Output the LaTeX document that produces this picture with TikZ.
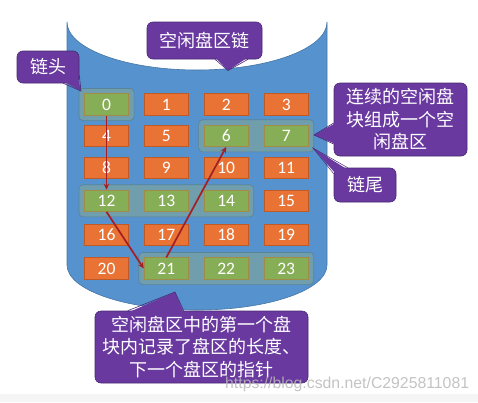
\documentclass[tikz,border=0pt]{standalone}
\usepackage{fontspec}
\usepackage{tikz}
\usetikzlibrary{calc,fit,arrows.meta}
\newfontfamily\cjkfont{Noto Sans CJK SC}
\newfontfamily\numfont{Carlito}
\newfontfamily\wmfont{Liberation Sans}
\pgfdeclarelayer{back}
\pgfdeclarelayer{bg}
\pgfsetlayers{back,bg,main}
\definecolor{cylblue}{RGB}{86,146,205}
\definecolor{cylline}{RGB}{70,118,165}
\definecolor{busyfill}{RGB}{233,115,52}
\definecolor{busyline}{RGB}{190,90,40}
\definecolor{freefill}{RGB}{134,174,86}
\definecolor{freeline}{RGB}{160,140,70}
\definecolor{grpfill}{RGB}{112,158,172}
\definecolor{grpline}{RGB}{88,132,152}
\definecolor{tipfill}{RGB}{105,57,160}
\definecolor{tipline}{RGB}{72,42,112}
\definecolor{ptrred}{RGB}{165,30,36}
\tikzset{
  cell/.style={minimum width=44.5, minimum height=21.5, inner sep=0pt,
    text=white, font=\numfont\fontsize{17.5}{17.5}\selectfont},
  busy/.style={cell, draw=busyline, fill=busyfill, line width=0.6},
  free/.style={cell, draw=freeline, fill=freefill, line width=0.6},
  grp/.style={draw=grpline, fill=grpfill, rounded corners=4, inner xsep=5, inner ysep=5, line width=0.6},
  callout/.style={draw=tipline, fill=tipfill, rounded corners=6, inner sep=0pt, line width=0.6,
    text=white, align=center, font=\cjkfont\fontsize{18}{22.5}\selectfont},
  ptr/.style={draw=ptrred, line width=1.7, -{Stealth[length=6,width=5.5]}},
}

\begin{document}
\begin{tikzpicture}[x=1pt,y=-1pt]
  \useasboundingbox (0,0) rectangle (478,402);
  % disk
  \begin{pgfonlayer}{back}
    \fill[black!4] (0,394) rectangle (478,402);
    \filldraw[fill=cylblue, draw=cylline, line width=0.6] (67,22) -- (67,265)
      .. controls (67,289.9) and (125.2,310) .. (197,310)
      .. controls (268.8,310) and (327,289.9) .. (327,265) -- (327,22)
      .. controls (327,48.5) and (268.8,70) .. (197,70)
      .. controls (125.2,70) and (67,48.5) .. (67,22) -- cycle;
  \end{pgfonlayer}
  % blocks
  \def\freemap{{1,0,0,0,0,0,1,1,0,0,0,0,1,1,1,0,0,0,0,0,0,1,1,1}}
  \foreach \r/\y in {0/104.5,1/135.8,2/167.8,3/200.8,4/235,5/268.5}
    \foreach \c/\x in {0/106.5,1/166.3,2/226.2,3/286.2} {
      \pgfmathtruncatemacro\n{4*\r+\c}
      \pgfmathtruncatemacro\f{\freemap[\n]}
      \ifnum\f=1 \def\k{free}\else\def\k{busy}\fi
      \node[\k] (c\n) at (\x,\y) {\n};
    }
  \begin{pgfonlayer}{bg}
    \node[grp, fit=(c0)] (g0) {};
    \node[grp, fit=(c6)(c7)] (g6) {};
    \node[grp, fit=(c12)(c14)] (g12) {};
    \node[grp, fit=(c21)(c23)] (g21) {};
  \end{pgfonlayer}
  % links
  \draw[ptr] (c0.south) -- (c12.north);
  \draw[ptr] (c12.south) -- (c21.west);
  \draw[ptr] (c21.north) -- (c6.south);
  % callouts
  \node[callout, minimum width=115, minimum height=37] (chain) at (204.5,40.5) {空闲盘区链};
  \node[callout, minimum width=62, minimum height=32] (head) at (48,67) {链头};
  \node[callout, minimum width=133, minimum height=73] (area) at (400.5,119.5) {连续的空闲盘\\块组成一个空\\闲盘区};
  \node[callout, minimum width=62, minimum height=34] (tail) at (365,185) {链尾};
  \node[callout, minimum width=213, minimum height=72] (note) at (201.5,347)
    {空闲盘区中的第一个盘\\块内记录了盘区的长度、\\下一个盘区的指针};
  \coordinate (chaintip) at (228,70.5);
  \coordinate (headtip) at (81,91);
  \coordinate (areatip) at (314,135);
  \coordinate (tailtip) at (313,148);
  \coordinate (notetip) at (175,292);
  \fill[tipfill] ($(chain.south)+(10.5,-2)$) -- (chaintip) -- ($(chain.south)+(43.5,-2)$) -- cycle;
  \draw[tipline, line width=0.6] ($(chain.south)+(10.5,0)$) -- (chaintip) -- ($(chain.south)+(43.5,0)$);
  \fill[tipfill] ($(head.south east)+(-16,-2)$) -- (headtip) -- ($(head.south east)+(-2,-8)$) -- cycle;
  \draw[tipline, line width=0.6] ($(head.south east)+(-16,0)$) -- (headtip) -- ($(head.south east)+(0,-8)$);
  \fill[tipfill] ($(area.west)+(2,3.5)$) -- (areatip) -- ($(area.west)+(2,24.5)$) -- cycle;
  \draw[tipline, line width=0.6] ($(area.west)+(0,3.5)$) -- (areatip) -- ($(area.west)+(0,24.5)$);
  \fill[tipfill] ($(tail.north west)+(14,2)$) -- (tailtip) -- ($(tail.north west)+(2,6)$) -- cycle;
  \draw[tipline, line width=0.5] ($(tail.north west)+(14,0)$) -- (tailtip) -- ($(tail.north west)+(0,6)$);
  \fill[tipfill] ($(note.north west)+(33,2)$) -- (notetip) -- ($(note.north west)+(89,2)$) -- cycle;
  \draw[tipline, line width=0.6] ($(note.north west)+(33,0)$) -- (notetip) -- ($(note.north west)+(89,0)$);
  % watermark
  \node[anchor=base west, inner sep=0pt, text=white!72!black, opacity=0.85,
    font=\wmfont\fontsize{15.8}{16}\selectfont] (wm) at (225,388) {https://blog.csdn.net/C2925811081};
\end{tikzpicture}
\end{document}
